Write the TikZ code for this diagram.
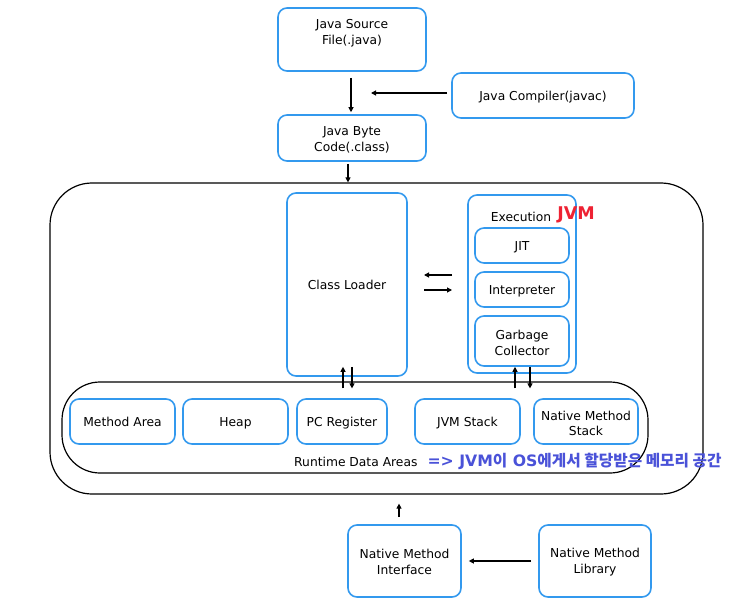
\documentclass[tikz,border=0pt]{standalone}
\usepackage{fontspec}
\setmainfont{DejaVu Sans}
\newfontfamily\cjk{Noto Sans CJK KR}
\usetikzlibrary{arrows.meta}
\definecolor{bx}{HTML}{3399EE}
\definecolor{kblue}{HTML}{4A52D8}
\definecolor{jvmred}{HTML}{EE2233}
\tikzset{
  box/.style={draw=bx, line width=1.6pt, rounded corners=9pt, inner sep=0pt},
  lbl/.style={align=center, font=\fontsize{12.3}{15.5}\selectfont, inner sep=0pt},
  big/.style={draw=black, line width=1.2pt},
  arr/.style={-{Triangle[length=5pt,width=5pt]}, line width=1.1pt},
}
\begin{document}
\begin{tikzpicture}[x=1pt,y=-1pt]
\useasboundingbox (0,0) rectangle (743,612);
% #1 name, #2-#5 box corners, #6 text, #7 text y offset
\newcommand{\myboxo}[7]{\node[box, minimum width=#4-#2, minimum height=#5-#3] (#1) at ({(#2+#4)/2},{(#3+#5)/2}) {};
  \node[lbl] (#1-t) at ([yshift=-#7]#1.center) {#6};}
\newcommand{\mybox}[6]{\myboxo{#1}{#2}{#3}{#4}{#5}{#6}{2}}
\myboxo{src}{278}{8}{426}{71}{Java Source\\File(.java)}{-6.5}
\mybox{comp}{452}{73}{634}{118}{\strut Java Compiler(javac)}
\mybox{bc}{278}{115}{426}{161}{Java Byte\\Code(.class)}
% JVM outer
\node[big, rounded corners=42pt, minimum width=653, minimum height=311] (jvm) at (376.5,338.5) {};
\mybox{cl}{287}{193}{407}{376}{\strut Class Loader}
\mybox{exe}{468}{195}{576}{373}{}
\node[font=\fontsize{12.3}{15}\selectfont] (exelbl) at (521,217) {Execution};
\node[font=\fontsize{17.5}{20}\selectfont\bfseries, text=jvmred] (jvmlbl) at (576,215) {JVM};
\mybox{jit}{475}{228}{569}{263}{\strut JIT}
\mybox{intp}{475}{272}{569}{307}{\strut Interpreter}
\mybox{gc}{475}{316}{569}{366}{Garbage\\Collector}
% runtime data areas
\node[big, rounded corners=38pt, minimum width=586, minimum height=91] (rda) at (355,427.5) {};
\mybox{ma}{70}{399}{175}{444}{\strut Method Area}
\mybox{heap}{183}{399}{288}{444}{\strut Heap}
\mybox{pc}{297}{399}{387}{444}{\strut PC Register}
\mybox{js}{415}{399}{520}{444}{\strut JVM Stack}
\mybox{nms}{534}{399}{638}{444}{Native Method\\Stack}
\node[font=\fontsize{12.3}{15}\selectfont, anchor=east] (rdalbl) at (421,462) {Runtime Data Areas};
\node[font=\fontsize{15.7}{18}\selectfont\bfseries, text=kblue, anchor=west] (kor) at (424,461) {=> JVM{\cjk\bfseries 이} OS{\cjk\bfseries 에게서 할당받은 메모리 공간}};
% native
\myboxo{nmi}{348}{525}{461}{597}{Native Method\\Interface}{1}
\myboxo{nml}{539}{525}{651}{597}{Native Method\\Library}{1}
% connectors
\draw[arr] ([yshift=-6]src.south -| 351,0) -- ([yshift=2]bc.north -| 351,0);
\coordinate (ca) at (371,93);
\draw[arr] ([xshift=-4]comp.west |- 0,93) -- (ca);
\draw[arr] ([yshift=-2]bc.south -| 348,0) -- (jvm.north -| 348,0);
\draw[arr] (452,275) coordinate (e1) -- (424,275) coordinate (c1);
\draw[arr] (424,290) coordinate (c2) -- (452,290) coordinate (e2);
\draw[arr] ([yshift=-7]rda.north -| 343,0) -- ([yshift=10]cl.south -| 343,0);
\draw[arr] ([yshift=10]cl.south -| 352,0) -- ([yshift=-7]rda.north -| 352,0);
\draw[arr] ([yshift=-7]rda.north -| 515,0) -- ([yshift=7]exe.south -| 515,0);
\draw[arr] ([yshift=7]exe.south -| 530,0) -- ([yshift=-7]rda.north -| 530,0);
\draw[arr] ([yshift=7]nmi.north -| 399,0) -- ([yshift=-9]jvm.south -| 399,0);
\draw[arr] ([xshift=-7]nml.west) -- ([xshift=7]nmi.east);
\end{tikzpicture}
\end{document}
